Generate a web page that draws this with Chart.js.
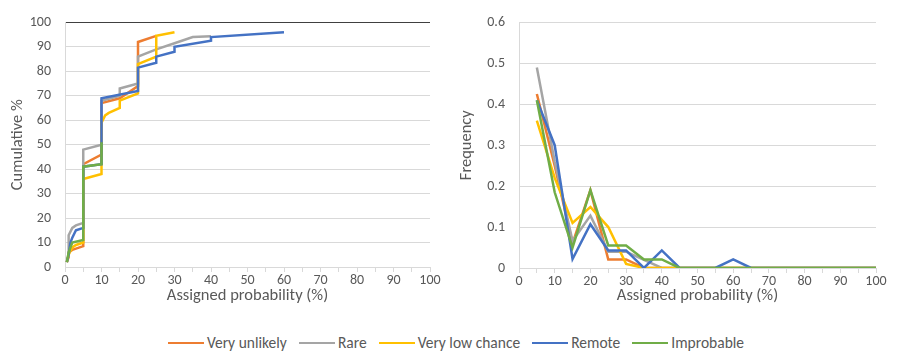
<!DOCTYPE html>
<html>
<head>
<meta charset="utf-8">
<script src="https://cdn.jsdelivr.net/npm/chart.js@4.4.1/dist/chart.umd.min.js"></script>
<style>
  html, body { margin: 0; padding: 0; background: #ffffff; }
  body { width: 898px; height: 362px; position: relative; overflow: hidden; font-family: Carlito, Lato, sans-serif; }
  #c1 { position: absolute; left: 0; top: 0; }
  #c2 { position: absolute; left: 450px; top: 0; }
  #legend { position: absolute; left: 7px; width: 898px; top: 333px; display: flex; justify-content: center; align-items: center; font-size: 15.5px; color: #595959; }
  .item { display: flex; align-items: center; margin: 0 6px; }
  .swatch { display: inline-block; width: 36px; height: 0; border-top: 2.5px solid; margin-right: 3px; }
</style>
</head>
<body>
<canvas id="c1" width="442" height="312"></canvas>
<canvas id="c2" width="438" height="312"></canvas>
<div id="legend"></div>
<script>
// ---- Series ----
const seriesNames = ["Very unlikely", "Rare", "Very low chance", "Remote", "Improbable"];
const seriesColors = ["#ED7D31", "#A5A5A5", "#FFC000", "#4472C4", "#70AD47"];

// ---- Left chart: cumulative % vs assigned probability (%) ----
const cumX_veryUnlikely = [0.5, 1, 1, 2, 3, 4, 5, 5, 10, 10, 15, 20, 20, 25];
const cumY_veryUnlikely = [2, 4, 6, 7, 7.5, 8, 8.5, 42, 46, 67, 69, 74, 92, 94.5];
const cumX_rare = [0.5, 1, 1, 2, 3, 5, 5, 10, 10, 15, 15, 20, 20, 25, 30, 35, 40];
const cumY_rare = [2, 5, 13, 16, 17, 18, 48, 50, 68, 70, 73, 75, 86, 89, 91.5, 94, 94.3];
const cumX_veryLowChance = [0.5, 1, 2, 3, 5, 5, 10, 10, 11, 12, 15, 15, 20, 20, 25, 25, 30];
const cumY_veryLowChance = [2, 5, 8, 9, 10, 36, 38, 59, 62, 63, 65, 68, 71, 83, 86, 94.5, 96];
const cumX_remote = [0.5, 1, 1.5, 2, 3, 5, 5, 10, 10, 20, 20, 25, 25, 30, 30, 40, 40, 60];
const cumY_remote = [2, 5, 10, 12, 15, 16, 41, 42, 69, 72, 81.5, 83.5, 86, 88, 90, 92.5, 94, 96];
const cumX_improbable = [0.5, 1, 2, 5, 5, 10, 10];
const cumY_improbable = [2, 6, 10, 11, 41, 42, 51];

// ---- Right chart: frequency vs assigned probability (%) ----
const freqX = [5, 10, 15, 20, 25, 30, 35, 40, 45, 50, 55, 60, 65, 70, 75, 80, 85, 90, 95, 100];
const freq_veryUnlikely = [0.425, 0.25, 0.06, 0.19, 0.021, 0.021, 0, 0, 0, 0, 0, 0, 0, 0, 0, 0, 0, 0, 0, 0];
const freq_rare = [0.49, 0.26, 0.066, 0.128, 0.04, 0.04, 0.02, 0, 0, 0, 0, 0, 0, 0, 0, 0, 0, 0, 0, 0];
const freq_veryLowChance = [0.36, 0.22, 0.11, 0.149, 0.10, 0.01, 0, 0, 0, 0, 0, 0, 0, 0, 0, 0, 0, 0, 0, 0];
const freq_remote = [0.41, 0.30, 0.022, 0.107, 0.043, 0.043, 0, 0.043, 0, 0, 0, 0.021, 0, 0, 0, 0, 0, 0, 0, 0];
const freq_improbable = [0.41, 0.185, 0.05, 0.19, 0.055, 0.055, 0.021, 0.021, 0, 0, 0, 0, 0, 0, 0, 0, 0, 0, 0, 0];

// ---- Axis ticks ----
const leftYTicks = [0, 10, 20, 30, 40, 50, 60, 70, 80, 90, 100];
const rightYTicks = [0, 0.1, 0.2, 0.3, 0.4, 0.5, 0.6];
const xTickLabels = [0, 10, 20, 30, 40, 50, 60, 70, 80, 90, 100];

const FONT = "Carlito, Lato, sans-serif";
const TXT = "#595959";

function pts(xs, ys) { return xs.map((x, i) => ({ x: x, y: ys[i] })); }

const cumData = [
  pts(cumX_veryUnlikely, cumY_veryUnlikely),
  pts(cumX_rare, cumY_rare),
  pts(cumX_veryLowChance, cumY_veryLowChance),
  pts(cumX_remote, cumY_remote),
  pts(cumX_improbable, cumY_improbable)
];
const freqData = [freq_veryUnlikely, freq_rare, freq_veryLowChance, freq_remote, freq_improbable]
  .map(arr => pts(freqX, arr));

function makeDatasets(dataArr) {
  return dataArr.map((d, i) => ({
    label: seriesNames[i],
    data: d,
    order: dataArr.length - 1 - i,   // later series drawn on top, as in the original
    borderColor: seriesColors[i],
    backgroundColor: seriesColors[i],
    borderWidth: 2.5,
    showLine: true,
    pointRadius: 0,
    pointHoverRadius: 0,
    tension: 0,
    fill: false
  }));
}

function xScale(axisH) {
  return {
    type: 'linear', min: 0, max: 100,
    afterBuildTicks: s => { const t = []; for (let v = 0; v <= 100; v += 5) t.push({ value: v }); s.ticks = t; },
    ticks: {
      autoSkip: false, maxRotation: 0,
      font: { family: FONT, size: 14 }, color: TXT, padding: 0,
      callback: v => (xTickLabels.includes(v) ? String(v) : '')
    },
    grid: { drawOnChartArea: false, drawTicks: true, tickLength: 5, color: '#d9d9d9', lineWidth: 1 },
    border: { display: true, color: '#d9d9d9', width: 1 },
    title: { display: true, text: 'Assigned probability (%)', font: { family: FONT, size: 16.5 }, color: TXT, padding: { top: 2, bottom: 6 } },
    afterFit: s => { s.height = axisH; }
  };
}

function yScale(ticksArr, max, title, width, topDark, titlePad, fmt) {
  return {
    type: 'linear', min: 0, max: max,
    afterBuildTicks: s => { s.ticks = ticksArr.map(v => ({ value: v })); },
    ticks: { font: { family: FONT, size: 14 }, color: TXT, padding: 14, callback: fmt },
    grid: {
      drawTicks: false, lineWidth: 1,
      color: c => (topDark && c.tick && c.tick.value === max ? '#404040' : '#d9d9d9')
    },
    border: { display: true, color: '#d9d9d9', width: 1 },
    title: { display: true, text: title, font: { family: FONT, size: 16.5 }, color: TXT, padding: { top: titlePad, bottom: 2 } },
    afterFit: s => { s.width = width; }
  };
}

const commonPlugins = { legend: { display: false }, tooltip: { enabled: false } };

new Chart(document.getElementById('c1'), {
  type: 'scatter',
  data: { datasets: makeDatasets(cumData) },
  options: {
    responsive: false, animation: false, events: [],
    layout: { padding: { top: 15, right: 12, left: 0, bottom: 0 } },
    plugins: commonPlugins,
    scales: {
      x: xScale(45),
      y: yScale(leftYTicks, 100, 'Cumulative %', 65, true, 8, v => String(v))
    }
  }
});

new Chart(document.getElementById('c2'), {
  type: 'scatter',
  data: { datasets: makeDatasets(freqData) },
  options: {
    responsive: false, animation: false, events: [],
    layout: { padding: { top: 15, right: 12, left: 0, bottom: 0 } },
    plugins: commonPlugins,
    scales: {
      x: xScale(44),
      y: yScale(rightYTicks, 0.6, 'Frequency', 69, false, 7, v => (v === 0 ? '0' : v.toFixed(1)))
    }
  }
});

// HTML legend (shared by both charts)
const legend = document.getElementById('legend');
seriesNames.forEach((n, i) => {
  const it = document.createElement('div'); it.className = 'item';
  const sw = document.createElement('span'); sw.className = 'swatch'; sw.style.borderTopColor = seriesColors[i];
  const tx = document.createElement('span'); tx.textContent = n;
  it.appendChild(sw); it.appendChild(tx); legend.appendChild(it);
});
</script>
</body>
</html>
